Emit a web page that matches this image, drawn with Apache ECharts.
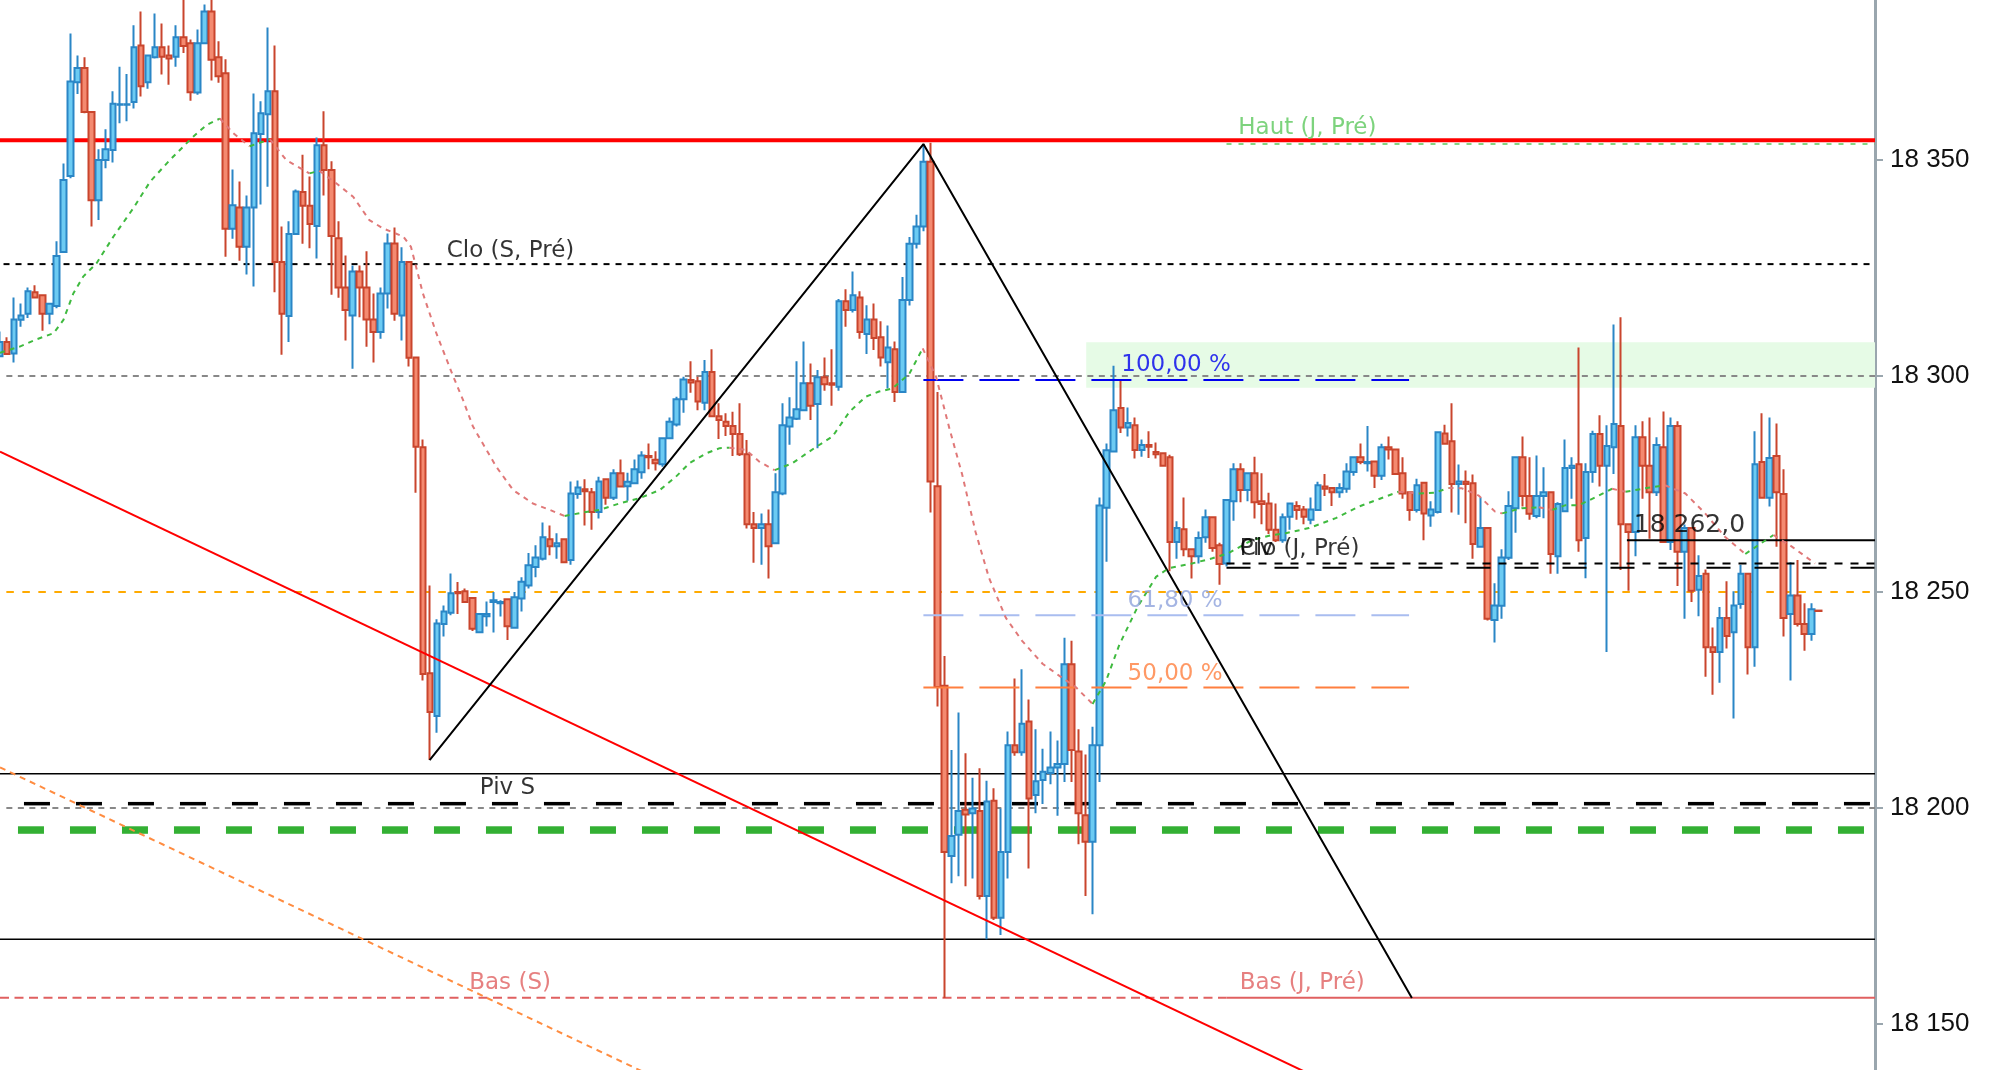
<!DOCTYPE html>
<html><head><meta charset="utf-8">
<script src="https://cdn.jsdelivr.net/npm/echarts@6/dist/echarts.min.js"></script>
<style>html,body{margin:0;padding:0;background:#fff;overflow:hidden}#c{width:1994px;height:1070px}</style>
</head><body><div id="c"></div><script>
// ---- candles [open, close, low, high] ----
const ohlc = [
[18304.6,18307.9,18304.6,18310.3],[18307.9,18305.1,18305.1,18309.0],[18305.2,18313.1,18303.1,18318.2],[18313.0,18314.0,18311.4,18316.8],
[18314.4,18319.6,18313.4,18320.5],[18319.4,18318.2,18318.2,18321.0],[18318.7,18314.4,18310.5,18318.7],[18314.4,18316.7,18312.0,18316.7],
[18316.2,18327.8,18315.7,18331.2],[18328.7,18345.4,18328.7,18349.2],[18346.3,18368.2,18345.8,18379.3],[18368.0,18371.3,18365.3,18374.2],
[18371.3,18361.1,18360.8,18373.8],[18361.1,18340.7,18334.6,18361.1],[18340.7,18350.0,18336.1,18352.5],[18350.0,18352.5,18348.1,18357.1],
[18352.3,18363.0,18349.4,18365.9],[18362.8,18362.9,18358.5,18371.6],[18362.8,18362.9,18359.0,18369.9],[18363.4,18376.1,18361.9,18381.2],
[18376.5,18367.1,18364.7,18384.4],[18368.0,18374.2,18366.5,18374.2],[18373.8,18376.1,18373.5,18383.9],[18376.1,18373.9,18369.8,18381.6],
[18374.2,18373.5,18367.4,18376.5],[18373.9,18378.4,18371.6,18381.2],[18378.4,18376.4,18374.8,18387.5],[18377.0,18365.7,18363.7,18377.9],
[18365.6,18377.0,18365.1,18380.2],[18377.0,18384.4,18377.0,18386.0],[18384.4,18373.2,18368.4,18390.0],[18373.8,18369.4,18367.9,18377.5],
[18370.1,18334.1,18327.6,18373.3],[18334.1,18339.5,18331.8,18347.8],[18339.0,18329.9,18326.7,18345.0],[18329.9,18339.0,18323.5,18341.8],
[18339.0,18356.2,18320.7,18365.4],[18356.0,18360.8,18339.7,18363.6],[18360.6,18365.9,18343.8,18380.7],[18365.9,18326.4,18319.4,18376.5],
[18326.4,18314.4,18304.9,18334.6],[18313.9,18332.9,18307.9,18335.8],[18332.9,18342.7,18332.9,18343.2],[18342.6,18339.4,18330.6,18351.2],
[18339.4,18335.2,18329.6,18346.2],[18334.7,18353.4,18327.2,18355.2],[18353.4,18347.7,18341.8,18361.3],[18347.7,18332.4,18318.8,18349.7],
[18331.9,18320.5,18318.1,18335.8],[18320.5,18315.3,18308.2,18327.9],[18314.0,18324.2,18301.7,18325.6],[18324.2,18320.5,18313.6,18325.6],
[18320.5,18313.1,18306.8,18328.9],[18313.1,18310.2,18303.1,18319.1],[18310.2,18319.1,18308.6,18320.5],[18319.1,18330.7,18315.6,18333.0],
[18330.7,18314.4,18312.8,18334.4],[18314.0,18326.4,18308.2,18329.8],[18326.4,18304.2,18302.2,18326.4],[18304.3,18283.6,18273.0,18304.3],
[18283.5,18231.0,18229.5,18285.3],[18231.2,18222.2,18211.1,18251.5],[18221.3,18242.7,18217.4,18243.7],[18242.6,18245.5,18239.7,18246.9],
[18245.2,18249.7,18244.6,18254.3],[18250.0,18249.7,18244.9,18252.3],[18250.2,18247.7,18247.7,18250.8],[18248.6,18241.5,18241.0,18248.6],
[18240.7,18244.9,18240.7,18244.9],[18244.4,18244.9,18242.0,18247.8],[18247.7,18248.1,18240.6,18250.0],[18247.4,18247.7,18244.3,18248.1],
[18248.3,18242.1,18238.9,18248.3],[18241.7,18248.8,18241.7,18250.0],[18248.5,18252.4,18245.5,18253.4],[18251.5,18256.2,18250.8,18259.0],
[18255.8,18258.0,18253.4,18260.8],[18257.7,18262.7,18257.3,18266.1],[18262.2,18260.6,18258.5,18265.4],[18260.6,18261.3,18257.7,18263.6],
[18262.2,18256.9,18256.9,18262.2],[18257.4,18272.8,18256.3,18275.6],[18272.7,18274.2,18271.6,18275.8],[18273.8,18273.3,18265.4,18276.1],
[18273.1,18268.5,18264.4,18274.1],[18268.5,18275.6,18267.0,18276.7],[18276.1,18271.8,18270.2,18276.1],[18271.8,18277.5,18271.3,18278.4],
[18277.5,18274.4,18274.4,18280.7],[18274.5,18275.5,18271.1,18277.6],[18275.2,18278.4,18275.2,18280.7],[18277.7,18281.6,18276.2,18282.6],
[18281.5,18281.2,18278.4,18284.4],[18280.6,18279.8,18278.1,18282.6],[18279.6,18285.6,18279.0,18285.8],[18285.6,18289.4,18285.6,18290.4],
[18288.8,18294.6,18288.3,18295.2],[18294.6,18299.2,18291.5,18299.8],[18299.1,18298.5,18296.1,18303.4],[18298.8,18294.1,18292.1,18299.8],
[18293.8,18300.9,18292.1,18303.7],[18300.9,18290.7,18290.7,18306.2],[18290.7,18289.8,18285.4,18293.7],[18289.4,18288.4,18286.1,18291.4],
[18288.4,18286.6,18281.5,18291.7],[18286.6,18281.9,18281.5,18293.7],[18281.9,18265.7,18264.7,18285.2],[18265.7,18264.8,18256.8,18268.5],
[18264.8,18265.7,18256.3,18268.2],[18265.7,18260.6,18253.1,18269.1],[18261.3,18273.1,18261.3,18277.5],[18272.8,18288.6,18272.4,18293.7],
[18288.3,18290.4,18284.1,18295.1],[18290.1,18292.3,18289.8,18303.4],[18292.1,18298.3,18292.1,18308.0],[18298.3,18293.1,18289.8,18302.9],
[18293.5,18299.7,18283.3,18301.4],[18299.7,18298.1,18296.6,18304.3],[18298.3,18298.0,18293.1,18306.2],[18297.5,18317.3,18296.6,18317.8],
[18317.3,18315.3,18311.4,18320.1],[18315.3,18318.7,18314.7,18324.2],[18318.2,18310.2,18308.6,18319.6],[18309.7,18313.1,18305.1,18316.4],
[18313.1,18308.8,18306.0,18316.8],[18309.0,18304.3,18302.2,18312.7],[18303.2,18306.6,18297.1,18311.7],[18306.2,18296.3,18294.0,18308.0],
[18296.3,18317.6,18296.3,18322.9],[18317.6,18330.6,18316.3,18332.2],[18330.6,18334.6,18329.5,18337.3],[18334.6,18349.6,18333.5,18353.7],
[18349.6,18275.6,18268.4,18354.0],[18274.5,18228.0,18223.5,18296.3],[18228.3,18189.8,18156.0,18235.2],[18188.9,18193.5,18182.6,18213.4],
[18193.8,18199.3,18184.2,18222.1],[18199.6,18198.5,18181.9,18212.7],[18198.8,18199.9,18183.7,18207.0],[18199.3,18179.6,18178.8,18209.2],
[18179.6,18201.5,18169.6,18206.3],[18201.7,18174.6,18174.1,18204.6],[18174.6,18189.8,18170.6,18199.9],[18189.8,18214.5,18183.7,18217.7],
[18214.5,18212.9,18212.1,18230.0],[18212.9,18219.5,18212.1,18232.1],[18220.0,18202.2,18186.0,18225.1],[18203.0,18206.2,18198.8,18218.2],
[18206.5,18208.4,18200.9,18213.7],[18208.1,18209.4,18205.5,18217.7],[18209.4,18210.2,18198.2,18215.6],[18210.2,18233.3,18206.0,18239.4],
[18233.3,18213.4,18206.0,18238.7],[18213.1,18198.8,18191.6,18218.2],[18198.3,18192.2,18179.6,18212.4],[18192.2,18214.5,18175.4,18218.8],
[18214.5,18270.0,18206.0,18271.9],[18269.5,18282.8,18257.0,18284.4],[18282.5,18292.1,18282.5,18302.4],[18292.6,18288.1,18286.8,18299.0],
[18288.1,18289.1,18286.0,18292.7],[18288.6,18282.9,18280.9,18290.4],[18282.9,18284.0,18281.3,18285.3],[18284.0,18283.6,18281.0,18287.2],
[18282.4,18281.9,18280.9,18284.6],[18282.1,18279.2,18279.2,18282.1],[18281.2,18261.6,18254.8,18281.8],[18261.6,18264.8,18257.7,18266.4],
[18264.5,18259.9,18258.3,18271.9],[18259.9,18258.3,18253.1,18259.9],[18258.3,18262.5,18256.6,18264.0],[18262.7,18267.3,18261.4,18269.1],
[18267.3,18260.2,18259.3,18267.3],[18260.8,18256.5,18251.7,18261.4],[18256.6,18271.3,18255.9,18271.5],[18271.0,18278.4,18266.5,18279.8],
[18278.4,18273.6,18270.8,18279.8],[18273.6,18277.5,18271.0,18277.5],[18277.5,18270.8,18267.0,18281.3],[18271.0,18270.4,18265.7,18277.5],
[18270.5,18264.4,18263.4,18273.0],[18264.4,18262.0,18261.6,18270.5],[18262.0,18267.3,18261.4,18268.2],[18267.4,18270.5,18264.4,18270.7],
[18269.9,18269.0,18266.7,18271.0],[18269.1,18267.4,18265.7,18269.9],[18266.7,18269.1,18265.7,18271.9],[18269.0,18274.7,18269.0,18275.5],
[18274.4,18273.9,18272.2,18277.3],[18274.1,18273.1,18269.9,18274.1],[18273.1,18274.1,18271.8,18275.2],[18273.9,18277.9,18273.0,18279.8],
[18277.8,18281.2,18276.9,18281.2],[18281.2,18280.1,18279.6,18284.4],[18279.8,18280.1,18277.9,18288.4],[18280.2,18276.9,18274.1,18280.2],
[18276.9,18283.5,18275.9,18284.3],[18283.5,18283.0,18280.7,18286.0],[18283.0,18277.3,18277.3,18283.0],[18277.5,18272.8,18271.6,18281.2],
[18273.1,18269.0,18266.5,18273.1],[18269.0,18274.7,18268.4,18276.2],[18275.3,18268.2,18262.0,18275.3],[18267.7,18269.1,18265.1,18271.0],
[18268.5,18287.0,18268.2,18287.2],[18286.7,18284.3,18284.3,18288.7],[18284.9,18275.0,18268.4,18293.7],[18275.0,18275.6,18267.9,18279.5],
[18275.5,18275.0,18265.9,18278.1],[18275.2,18261.1,18257.7,18277.2],[18260.5,18264.8,18260.5,18271.9],[18264.8,18243.8,18243.4,18264.8],
[18243.5,18246.9,18238.3,18252.0],[18246.8,18258.0,18243.8,18259.9],[18257.9,18269.9,18257.4,18273.3],[18269.4,18281.2,18263.7,18281.2],
[18281.2,18272.2,18269.8,18286.0],[18272.2,18268.1,18266.7,18281.2],[18267.6,18272.2,18267.1,18281.6],[18272.2,18273.1,18267.1,18278.9],
[18273.1,18258.8,18254.2,18273.1],[18258.3,18270.4,18254.2,18270.8],[18268.7,18278.7,18268.7,18285.3],[18278.7,18279.2,18271.6,18281.2],
[18279.6,18262.0,18259.3,18306.6],[18262.5,18277.8,18253.2,18279.8],[18277.8,18286.6,18275.3,18287.3],[18286.6,18279.2,18274.4,18290.9],
[18279.2,18283.8,18236.1,18288.6],[18283.5,18288.9,18277.3,18311.9],[18288.4,18265.7,18255.1,18313.6],[18265.7,18263.9,18250.3,18265.7],
[18263.9,18285.8,18258.3,18288.6],[18285.8,18279.2,18271.6,18289.5],[18279.2,18273.1,18262.3,18290.4],[18273.1,18284.0,18272.2,18285.8],
[18283.5,18261.6,18261.6,18291.8],[18261.6,18288.4,18259.7,18290.4],[18288.4,18259.3,18251.4,18289.5],[18259.3,18264.8,18243.8,18265.6],
[18264.8,18250.3,18247.7,18264.8],[18250.5,18253.7,18244.4,18258.5],[18254.2,18237.2,18230.4,18255.2],[18237.2,18236.1,18226.2,18241.8],
[18236.1,18244.0,18229.0,18246.5],[18244.0,18239.8,18236.9,18252.5],[18240.7,18246.9,18220.7,18250.2],[18247.2,18254.2,18246.1,18256.3],
[18254.2,18237.2,18230.9,18254.2],[18237.2,18279.6,18232.7,18287.2],[18280.1,18271.8,18271.8,18291.4],[18271.8,18281.0,18269.8,18290.4],
[18281.5,18273.1,18260.5,18289.0],[18272.7,18244.0,18239.7,18278.4],[18244.9,18249.2,18229.5,18256.9],[18249.2,18242.6,18242.0,18257.4],
[18242.6,18240.3,18236.4,18247.4],[18240.3,18246.0,18238.7,18247.4],[18245.7,18245.6,18245.6,18245.7]
];
const slotCount = 267;
const categories = Array.from({length: slotCount}, (_, i) => String(i));

// ---- moving average, read at sparse candle positions [index, price] ----
const maPoints = [
[0,18305.4],[2.8,18306.8],[5.2,18308.5],[7.6,18309.9],[9,18313],[10.4,18319.1],[11.8,18323],[13.7,18326.1],[16.1,18332.3],
[18.9,18338.8],[21.3,18345],[24.1,18350],[27.4,18355.4],[29.3,18358.1],[31.2,18359.6],[33.1,18356.2],[35.4,18353.2],[38.3,18354.8],
[40.6,18350],[43.9,18346.9],[45.3,18347.5],[47.7,18344.6],[50.1,18341.5],[52.4,18336.1],[54.3,18334.2],[57.2,18332.3],[58.3,18329.9],
[60,18319.1],[61.9,18309.9],[64.2,18300.3],[65.7,18294.4],[67.1,18288.3],[70.4,18279],[72.8,18273.6],[75.6,18270.5],[78,18269],
[80.1,18267.6],[82.7,18268.4],[85,18269],[87.9,18270.5],[90.7,18271.7],[93.6,18273.6],[95.9,18276.7],[97.8,18279.8],[100.2,18282.1],
[102.1,18283.3],[103.5,18283.4],[105.8,18282.9],[107.7,18280.2],[109.9,18278.2],[112.4,18279.8],[115.8,18283.6],[118.1,18286],
[120.5,18291.7],[122.8,18295.2],[124.7,18296.4],[126.6,18297.1],[129,18300.5],[130.9,18306.4],[132.8,18299.8],[134.7,18287.8],
[136.5,18277.2],[138.4,18263.9],[140.3,18253.3],[142.7,18244],[145,18238.7],[147.9,18233.4],[150.2,18230.7],[152.6,18228],
[155,18224.1],[156.9,18229.4],[158.8,18237.8],[161.4,18246.6],[164,18253.5],[165.8,18255.5],[169.1,18256.6],[172,18257.8],
[174.3,18259],[177.6,18262],[180.5,18263.2],[182.4,18263.6],[185.7,18264.8],[189.5,18267.1],[192.8,18269.8],[196.6,18272.1],
[198.4,18273.2],[201.3,18272.8],[203.6,18273],[205.5,18274.1],[207.4,18274],[209.8,18272.3],[212.1,18268.6],[213.1,18268.2],
[215.9,18269.4],[218.3,18269.6],[220.2,18269],[222.1,18270.1],[224,18270.1],[226.3,18271.9],[228.7,18273.9],[230.6,18273.2],
[233.4,18274],[236.2,18274.7],[239.1,18272.8],[241.9,18268.2],[244.7,18262.8],[247.6,18258.8],[249.5,18260.9],[251.6,18263.2],
[254.2,18260.5],[257.5,18256.6]
];

// ---- horizontal levels (price) ----
const resistanceLevel = 18354.6;
const hautJPre = 18353.7;
const cloSPre = 18325.9;
const roundLevels = [18300, 18200];
const zoneRange = [18297.3, 18307.8];
const fibLevels = [18299.1, 18244.6, 18227.9];
const fibSpan = [131, 199.9];
const cloJPre = 18256.6;
const pivJ = 18255.6;
const lastLevel = 18262.0;
const orangeLevel = 18250;
const upperSupport = 18207.9;
const pivS = 18201.0;
const greenSupport = 18194.9;
const lowerSupport = 18169.6;
const basLevel = 18156.1;
// x positions (candle index) where lines start / end
const dayStart = 174;
const lastStart = 230.8;
const zoneStart = 154.1;
const xEnd = 266;
// visible price range
const yRange = [18139.35, 18387.04];
// ---- trend lines [index, price] ----
const redTrend = [[0,18282.5],[200,18127.4]];
const orangeTrend = [[0,18209.4],[130,18109.0]];
const zigzag = [[60.95,18211.1],[131.0,18353.7],[200.3,18156.0]];
// ---- texts [text, index, price] ----
const textLabels = [
['Clo (S, Pré)',63.3,18328.9],['Haut (J, Pré)',175.6,18357.4],['100,00 %',159.0,18302.5],['61,80 %',159.9,18247.8],
['50,00 %',159.9,18231.1],['Clo (J, Pré)',175.8,18260.0],['Piv',175.8,18260.0],['18 262,0',231.7,18265.5],
['Piv S',68.0,18204.6],['Bas (S)',66.5,18159.5],['Bas (J, Pré)',175.8,18159.5]
];
const yTicks = [18150,18200,18250,18300,18350];

// ---- styles ----
const labelColors = ['#000','#5cc85c','#0000ee','#8fa3dc','#ff7f3f','#000','#000','#000','#000','#e06060','#e06060'];
const labelSizes = [23,23,23,23,23,23,23,25,23,23,23];

const chart = echarts.init(document.getElementById('c'), null, {renderer:'canvas'});

function lineSeries(points, color, width, dash, z){
  return {type:'line', xAxisIndex:1, yAxisIndex:0, data:points, symbol:'none', silent:true, animation:false,
    z: z||5, clip:true, lineStyle:{color, width, type: dash||'solid', cap:'butt'}};
}
function hLine(price, x0, x1, color, width, dash, z){ return lineSeries([[x0,price],[x1,price]], color, width, dash, z); }

// split MA into rising (green) and falling (red) runs
const maUp=[], maDown=[];
for (let k=0;k<maPoints.length-1;k++){
  const a=maPoints[k], b=maPoints[k+1];
  const tgt = b[1]>=a[1] ? maUp : maDown;
  const last = tgt[tgt.length-1];
  if (!last || last[0]!==a[0]) { if (tgt.length) tgt.push([a[0], null]); tgt.push(a); }
  tgt.push(b);
}

const candleData = categories.map((c,i)=> i<ohlc.length ? ohlc[i] : '-');

const series = [
  {type:'line', xAxisIndex:1, data:[], symbol:'none', silent:true, z:1,
    markArea:{silent:true, itemStyle:{color:'#e6fbe6'}, data:[[{coord:[zoneStart, zoneRange[1]]},{coord:[xEnd, zoneRange[0]]}]]}},
  hLine(resistanceLevel, 0, xEnd, '#ff0000', 4, 'solid', 3),
  hLine(hautJPre, dayStart, xEnd, '#5cc85c', 1.5, [5,7], 3),
  hLine(cloSPre, 0.5, xEnd, '#000', 2, [6,6], 3),
  hLine(roundLevels[0], 0.9, xEnd, '#888', 2, [6,5.5], 3),
  hLine(roundLevels[1], 0.9, xEnd, '#888', 2, [6,5.5], 3),
  hLine(orangeLevel, 0.9, xEnd, '#ffaa00', 2, [7.5,8.5], 3),
  hLine(upperSupport, 0, xEnd, '#000', 1.5, 'solid', 3),
  hLine(lowerSupport, 0, xEnd, '#000', 1.5, 'solid', 3),
  hLine(pivS, 3.4, xEnd, '#000', 3.5, [26,26], 3),
  hLine(greenSupport, 2.55, xEnd, '#33b033', 7.5, [26,26], 3),
  hLine(basLevel, 0, dayStart, '#e06060', 2, [9,5.5], 3),
  hLine(basLevel, dayStart, xEnd, '#e06060', 2, 'solid', 3),
  {type:'candlestick', xAxisIndex:0, yAxisIndex:0, data:candleData, barWidth:6, z:4, animation:false, silent:true,
    itemStyle:{color:'#6ccbf3', color0:'#f48a70', borderColor:'#2a86c6', borderColor0:'#c9452d', borderWidth:2}},
  hLine(cloJPre, dayStart, xEnd, '#000', 2, [8,8], 5),
  hLine(pivJ, dayStart, xEnd, '#000', 2, [24,24], 5),
  hLine(lastLevel, lastStart, xEnd, '#000', 2, 'solid', 5),
  hLine(fibLevels[0], fibSpan[0], fibSpan[1], '#0000ee', 2, [40,16], 5),
  hLine(fibLevels[1], fibSpan[0], fibSpan[1], '#a9bdf0', 2, [40,16], 5),
  hLine(fibLevels[2], fibSpan[0], fibSpan[1], '#ff7f3f', 2, [40,16], 5),
  lineSeries(redTrend, '#ff0000', 2, 'solid', 5),
  lineSeries(orangeTrend, '#ff8c40', 2, [6,5], 5),
  lineSeries(zigzag, '#000', 2, 'solid', 5),
  lineSeries(maUp, '#3fba3f', 2, [5,5], 6),
  lineSeries(maDown, '#e07878', 2, [5,5], 6),
  {type:'scatter', xAxisIndex:1, yAxisIndex:0, symbolSize:1, z:7, silent:true, animation:false,
    itemStyle:{color:'rgba(0,0,0,0)'},
    data: textLabels.map((t,k)=>({value:[t[1],t[2]],
      label:{show:true, position:'right', distance:0, formatter:t[0], color:labelColors[k],
        fontSize:labelSizes[k], fontFamily:'DejaVu Sans'}}))}
];

chart.setOption({
  animation:false,
  backgroundColor:'#fff',
  grid:{left:0, right:119, top:0, bottom:0, containLabel:false},
  xAxis:[
    {type:'category', data:categories, boundaryGap:false, show:false},
    {type:'value', min:0, max:xEnd, show:false}
  ],
  yAxis:{type:'value', position:'right', min:yRange[0], max:yRange[1], splitNumber:5, minInterval:50, maxInterval:50,
    axisLine:{show:true, onZero:false, lineStyle:{color:'#9aa6ae', width:3}},
    axisTick:{show:true, inside:false, length:8, lineStyle:{color:'#9aa6ae', width:2}},
    splitLine:{show:false},
    axisLabel:{margin:15, color:'#111', fontSize:26, fontFamily:'Liberation Sans', showMinLabel:false, showMaxLabel:false,
      formatter:v => yTicks.includes(Math.round(v*100)/100) ? String(Math.round(v)).replace(/\B(?=(\d{3})+(?!\d))/g,' ') : ''}},
  series
});
</script></body></html>
